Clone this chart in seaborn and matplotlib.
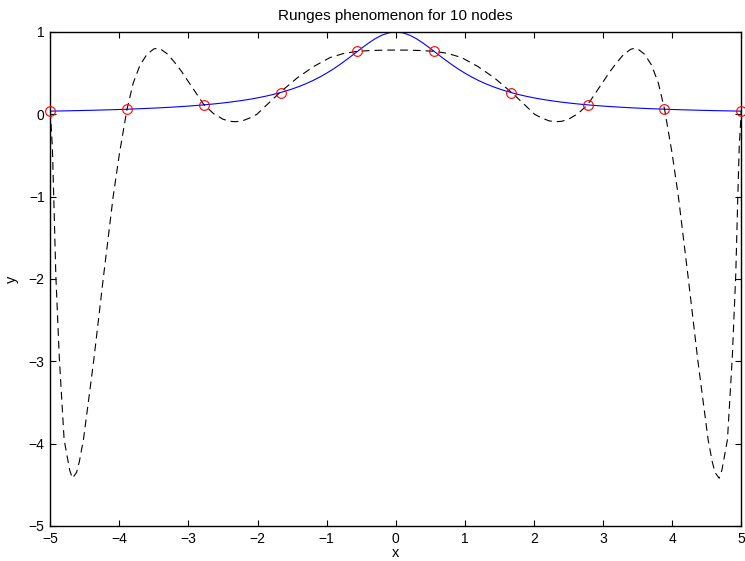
import matplotlib
matplotlib.use("Agg")
import matplotlib.pyplot as plt
import seaborn as sns
import pandas as pd

# Interpolation nodes
node_x = [-5.0, -3.8889, -2.7778, -1.6667, -0.5556, 0.5556, 1.6667, 2.7778, 3.8889, 5.0]
node_y = [0.0385, 0.0620, 0.1147, 0.2647, 0.7642, 0.7642, 0.2647, 0.1147, 0.0620, 0.0385]

# Blue curve (function), sampled every 0.1
func_x = [round(-5 + 0.1 * i, 1) for i in range(101)]
func_y = [0.0385, 0.0400, 0.0416, 0.0433, 0.0451, 0.0471, 0.0491, 0.0513, 0.0536, 0.0561,
          0.0588, 0.0617, 0.0648, 0.0681, 0.0716, 0.0755, 0.0796, 0.0841, 0.0890, 0.0943,
          0.1000, 0.1063, 0.1131, 0.1206, 0.1289, 0.1379, 0.1479, 0.1590, 0.1712, 0.1848,
          0.2000, 0.2169, 0.2358, 0.2571, 0.2809, 0.3077, 0.3378, 0.3717, 0.4098, 0.4525,
          0.5000, 0.5525, 0.6098, 0.6711, 0.7353, 0.8000, 0.8621, 0.9174, 0.9615, 0.9901,
          1.0000, 0.9901, 0.9615, 0.9174, 0.8621, 0.8000, 0.7353, 0.6711, 0.6098, 0.5525,
          0.5000, 0.4525, 0.4098, 0.3717, 0.3378, 0.3077, 0.2809, 0.2571, 0.2358, 0.2169,
          0.2000, 0.1848, 0.1712, 0.1590, 0.1479, 0.1379, 0.1289, 0.1206, 0.1131, 0.1063,
          0.1000, 0.0943, 0.0890, 0.0841, 0.0796, 0.0755, 0.0716, 0.0681, 0.0648, 0.0617,
          0.0588, 0.0561, 0.0536, 0.0513, 0.0491, 0.0471, 0.0451, 0.0433, 0.0416, 0.0400,
          0.0385]

# Dashed curve (interpolating polynomial)
poly_x = [-5.0, -4.97, -4.95, -4.92, -4.87, -4.80, -4.72, -4.68, -4.62, -4.58, -4.52, -4.45,
          -4.37, -4.23, -4.09, -4.0, -3.89, -3.8, -3.7, -3.6, -3.5, -3.45, -3.4, -3.3,
          -3.2, -3.1, -3.02, -2.9, -2.78, -2.64, -2.5, -2.4, -2.32, -2.22, -2.1, -2.01, -1.86,
          -1.67, -1.43, -1.19, -0.95, -0.75, -0.56, -0.35, -0.15, 0.0,
          0.15, 0.35, 0.56, 0.75, 0.95, 1.19, 1.43, 1.67, 1.86, 2.01, 2.1, 2.22, 2.32, 2.4,
          2.5, 2.64, 2.78, 2.9, 3.02, 3.1, 3.2, 3.3, 3.4, 3.45, 3.5, 3.6, 3.7, 3.8, 3.89,
          4.0, 4.09, 4.23, 4.37, 4.45, 4.52, 4.58, 4.62, 4.68, 4.72, 4.80, 4.87, 4.92, 4.95,
          4.97, 5.0]
poly_y = [0.04, -0.4, -1.0, -1.95, -2.95, -3.95, -4.32, -4.42, -4.35, -4.22, -3.95, -3.5,
          -2.98, -1.97, -1.0, -0.48, 0.06, 0.38, 0.60, 0.73, 0.795, 0.80, 0.79, 0.73,
          0.63, 0.52, 0.42, 0.27, 0.12, 0.01, -0.06, -0.085, -0.09, -0.08, -0.04, 0.0, 0.12,
          0.27, 0.44, 0.58, 0.69, 0.74, 0.765, 0.775, 0.78, 0.78,
          0.78, 0.775, 0.765, 0.74, 0.69, 0.58, 0.44, 0.27, 0.12, 0.0, -0.04, -0.08, -0.09, -0.085,
          -0.06, 0.01, 0.12, 0.27, 0.42, 0.52, 0.63, 0.73, 0.79, 0.80, 0.795, 0.73, 0.60, 0.38, 0.06,
          -0.48, -1.0, -1.97, -2.98, -3.5, -3.95, -4.22, -4.35, -4.42, -4.32, -3.95, -2.95, -1.95, -1.0,
          -0.4, 0.04]

x_ticks = [-5, -4, -3, -2, -1, 0, 1, 2, 3, 4, 5]
y_ticks = [-5, -4, -3, -2, -1, 0, 1]
title = "Runges phenomenon for 10 nodes"

sns.set_theme(style="ticks")
plt.rcParams["font.family"] = ["Liberation Sans", "DejaVu Sans"]
plt.rcParams["axes.unicode_minus"] = True
plt.rcParams["text.color"] = "black"
plt.rcParams["axes.labelcolor"] = "black"

fig = plt.figure(figsize=(7.45, 5.61), dpi=100)
ax = fig.add_axes([0.0675, 0.0624, 0.9275, 0.8806])

df_f = pd.DataFrame({"x": func_x, "y": func_y})
df_p = pd.DataFrame({"x": poly_x, "y": poly_y})
df_n = pd.DataFrame({"x": node_x, "y": node_y})

sns.lineplot(data=df_f, x="x", y="y", ax=ax, color="#0000ff", linewidth=0.8,
             estimator=None, sort=False)
sns.lineplot(data=df_p, x="x", y="y", ax=ax, color="black", linewidth=0.8,
             estimator=None, sort=False, dashes=False)
ax.lines[-1].set_dashes((7, 4.5))
ax.plot(df_n["x"], df_n["y"], linestyle="none", marker="o", markersize=7,
        markerfacecolor="none", markeredgecolor="#ff0000", markeredgewidth=0.8,
        clip_on=False, zorder=5)

ax.set_xlim(-5, 5)
ax.set_ylim(-5, 1)
ax.set_xticks(x_ticks)
ax.set_yticks(y_ticks)
ax.set_xticklabels([f"{t}".replace("-", "\u2212") for t in x_ticks])
ax.set_yticklabels([f"{t}".replace("-", "\u2212") for t in y_ticks])
ax.tick_params(direction="in", length=4, width=0.8, top=True, right=True,
               labelsize=10, colors="black", pad=4)
for s in ax.spines.values():
    s.set_visible(True)
    s.set_linewidth(1.0)
    s.set_color("black")
ax.set_xlabel("x", fontsize=10.5, labelpad=0, color="black")
ax.set_ylabel("y", fontsize=10.5, labelpad=7, color="black")
ax.set_title(title, fontsize=11, pad=8.5, color="black")
ax.set_facecolor("white")
fig.patch.set_facecolor("white")

fig.savefig("out.png", dpi=100)
